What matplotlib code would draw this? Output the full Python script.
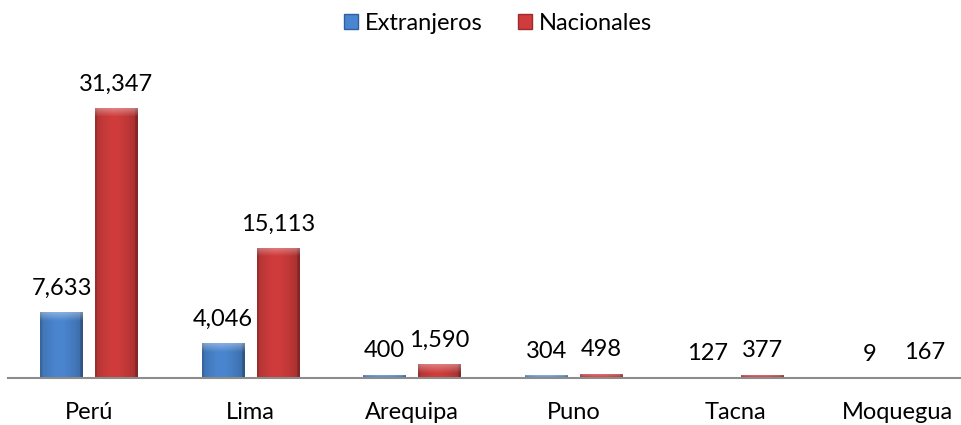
import numpy as np
import matplotlib
matplotlib.use("Agg")
import matplotlib.pyplot as plt
from matplotlib.colors import to_rgb
from matplotlib.patches import Patch

# data
regiones = ["Perú", "Lima", "Arequipa", "Puno", "Tacna", "Moquegua"]
extranjeros = [7633, 4046, 400, 304, 127, 9]
nacionales = [31347, 15113, 1590, 498, 377, 167]

plt.rcParams['font.family'] = ['Lato', 'DejaVu Sans']

fig = plt.figure(figsize=(9.62, 4.25), dpi=100)
ax = fig.add_axes([8.2 / 962, 47 / 425, 969.6 / 962, 328 / 425])
ymax = 31347 * 328 / 270
ax.set_xlim(-0.5, len(regiones) - 0.5)
ax.set_ylim(0, ymax)

w = 0.266
off = 0.17
x = np.arange(len(regiones))
bevel = 9 / 328 * ymax


def shaded(c, h):
    # fake excel bevel: darker sides, soft light top edge
    base = np.array(to_rgb(c))
    ny = 300
    nx = 60
    t = np.linspace(0, 1, nx)
    fx = 1.0 - 0.25 * np.abs(t - 0.45) ** 1.6 * 2.2
    fx[:3] *= 0.88
    fx[-4:] *= 0.8
    img = np.ones((ny, nx, 3)) * base * fx[None, :, None]
    nb = int(round(ny * min(bevel, h) / h)) if h > 0 else 0
    if nb > 0:
        k = np.linspace(0.35, 0.0, nb)[:, None, None]
        img[:nb] = img[:nb] * (1 - k) + k
    return np.clip(img, 0, 1)


def draw(xs, vals, color):
    bars = ax.bar(xs, vals, w, color=color, edgecolor="none")
    for b, v in zip(bars, vals):
        x0 = b.get_x()
        im = ax.imshow(shaded(color, v), extent=(x0, x0 + w, 0, v),
                       aspect="auto", origin="upper", zorder=2,
                       interpolation="bilinear")
        im.set_clip_path(b)
        ax.text(x0 + w / 2, v + 1550, f"{v:,}", ha="center", va="bottom",
                fontsize=17, color="#000000")
    return bars


draw(x - off, extranjeros, "#4a86d0")
draw(x + off, nacionales, "#d03c3c")

ax.set_xticks(x)
ax.set_xticklabels(regiones, fontsize=17)
ax.tick_params(axis="x", length=0, pad=17)
ax.set_yticks([])
for s in ["top", "right", "left"]:
    ax.spines[s].set_visible(False)
ax.spines["bottom"].set_color("#8c8c8c")
ax.spines["bottom"].set_linewidth(1.5)
ax.spines["bottom"].set_zorder(3)

handles = [Patch(facecolor="#4a86d0", edgecolor="#2f5f9e"),
           Patch(facecolor="#d03c3c", edgecolor="#9e2b2b")]
fig.legend(handles, ["Extranjeros", "Nacionales"], loc="center",
           bbox_to_anchor=(0.5 + 17 / 962, 1 - 23 / 425), ncol=2,
           frameon=False, fontsize=17, handlelength=0.6, handleheight=0.6,
           handletextpad=0.3, columnspacing=1.5)

fig.savefig("out.png", dpi=100)
